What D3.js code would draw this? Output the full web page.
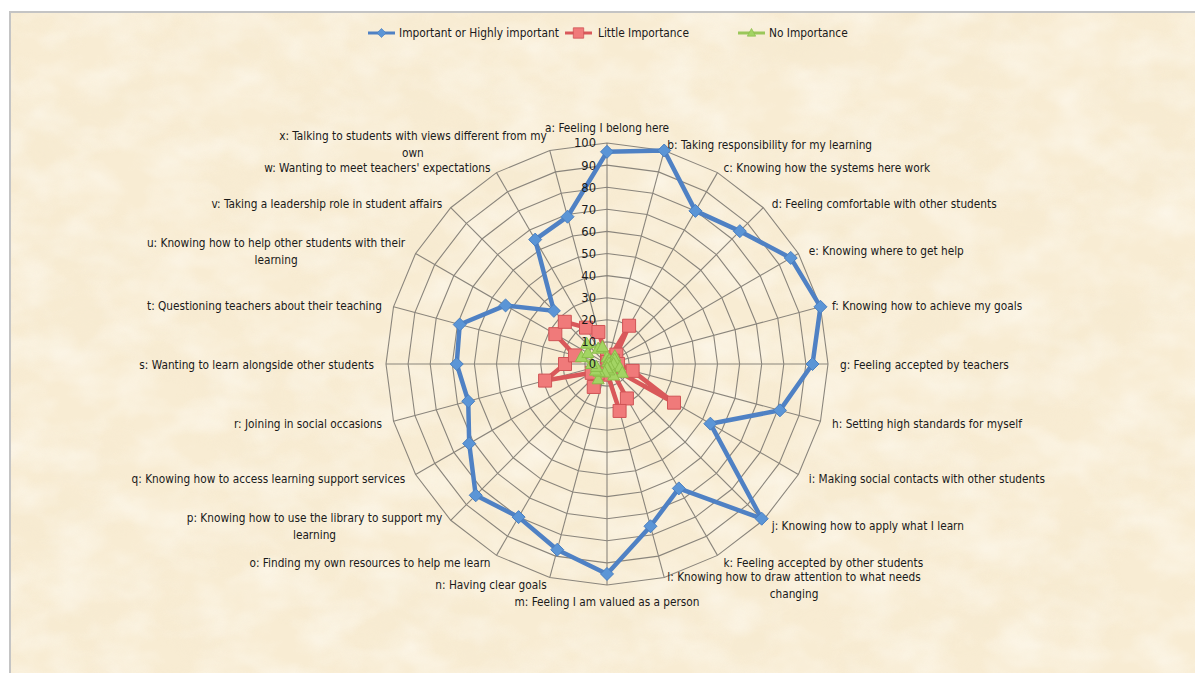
<!DOCTYPE html>
<html><head><meta charset="utf-8">
<script src="https://cdn.jsdelivr.net/npm/d3@7/dist/d3.min.js"></script>
<style>
body{margin:0;background:#fff;}
svg{display:block}
</style>
</head><body>
<svg id="chart" width="1195" height="673"></svg>
<script>
// ---------------- DATA ----------------
const categories = [
  "a: Feeling I belong here",
  "b: Taking responsibility for my learning",
  "c: Knowing how the systems here work",
  "d: Feeling comfortable with other students",
  "e: Knowing where to get help",
  "f: Knowing how to achieve my goals",
  "g: Feeling accepted by teachers",
  "h: Setting high standards for myself",
  "i: Making social contacts with other students",
  "j: Knowing how to apply what I learn",
  "k: Feeling accepted by other students",
  "l: Knowing how to draw attention to what needs\nchanging",
  "m: Feeling I am valued as a person",
  "n: Having clear goals",
  "o: Finding my own resources to help me learn",
  "p: Knowing how to use the library to support my\nlearning",
  "q: Knowing how to access learning support services",
  "r: Joining in social occasions",
  "s: Wanting to learn alongside other students",
  "t: Questioning teachers about their teaching",
  "u: Knowing how to help other students with their\nlearning",
  "v: Taking a leadership role in student affairs",
  "w: Wanting to meet teachers' expectations",
  "x: Talking to students with views different from my\nown"
];
const seriesNames = ["Important or Highly important", "Little Importance", "No Importance"];
const important = [96, 100, 80, 85, 96, 100, 93, 81, 54, 99, 65, 76, 95, 87, 80, 84, 72, 65, 68, 69, 53, 34, 65, 69];
const little    = [3, 1, 20, 6, 3, 2, 5, 12, 35, 2, 18, 22, 4, 5, 12, 6, 8, 29, 19, 15, 27, 27, 19, 15];
const noImp     = [3, 1, 2, 5, 4, 1, 3, 6, 8, 2, 6, 3, 2, 4, 8, 5, 6, 5, 7, 12, 10, 13, 8, 8];
const tickValues = [0, 10, 20, 30, 40, 50, 60, 70, 80, 90, 100];

// ---------------- LAYOUT ----------------
const W = 1195, H = 673;
const cx = 607, cy = 364, R = 221;
const svg = d3.select("#chart");
const FONT = "'Liberation Sans Narrow','DejaVu Sans Condensed','Liberation Sans',sans-serif";

// background parchment
const defs = svg.append("defs");
const f = defs.append("filter").attr("id", "paper").attr("x", 0).attr("y", 0).attr("width", "100%").attr("height", "100%");
f.append("feTurbulence").attr("type", "fractalNoise").attr("baseFrequency", "0.009 0.014").attr("numOctaves", 4).attr("seed", 7).attr("result", "n");
f.append("feColorMatrix").attr("in", "n").attr("type", "matrix")
  .attr("values", "0 0 0 0 0.88  0 0 0 0 0.78  0 0 0 0 0.58  1.2 0 0 0 -0.5");
const f2 = defs.append("filter").attr("id", "paper2").attr("x", 0).attr("y", 0).attr("width", "100%").attr("height", "100%");
f2.append("feTurbulence").attr("type", "fractalNoise").attr("baseFrequency", "0.02 0.03").attr("numOctaves", 3).attr("seed", 21).attr("result", "n");
f2.append("feColorMatrix").attr("in", "n").attr("type", "matrix")
  .attr("values", "0 0 0 0 1  0 0 0 0 0.99  0 0 0 0 0.95  0 1.4 0 0 -0.5");

svg.append("rect").attr("x", 10).attr("y", 12).attr("width", W).attr("height", H).attr("fill", "#f8ecd3");
svg.append("rect").attr("x", 10).attr("y", 12).attr("width", W).attr("height", H).attr("filter", "url(#paper)").attr("opacity", 0.4);
svg.append("rect").attr("x", 10).attr("y", 12).attr("width", W).attr("height", H).attr("filter", "url(#paper2)").attr("opacity", 0.65);
svg.append("path").attr("d", `M10,${H} L10,12 L${W},12`).attr("fill", "none").attr("stroke", "#c4c4c4").attr("stroke-width", 2);

// scales
const rScale = d3.scaleLinear().domain([0, 100]).range([0, R]);
const aScale = d3.scaleLinear().domain([0, categories.length]).range([0, 2 * Math.PI]);
const pt = (i, v) => [cx + rScale(v) * Math.sin(aScale(i)), cy - rScale(v) * Math.cos(aScale(i))];

const g = svg.append("g");

// grid rings (polygons)
tickValues.filter(t => t > 0).forEach(t => {
  g.append("path")
    .attr("d", d3.line()(categories.map((c, i) => pt(i, t))) + "Z")
    .attr("fill", "none").attr("stroke", "#8a857c").attr("stroke-width", 1.1);
});
// spokes
categories.forEach((c, i) => {
  const [x, y] = pt(i, 100);
  g.append("line").attr("x1", cx).attr("y1", cy).attr("x2", x).attr("y2", y)
    .attr("stroke", "#8a857c").attr("stroke-width", 1.1);
});

// font-size calibration (target widths measured in the reference)
function fitSize(text, target, base) {
  const t = svg.append("text").attr("font-family", FONT).attr("font-size", base).text(text);
  const w = t.node().getComputedTextLength();
  t.remove();
  return base * target / w;
}
const labelSize = fitSize("b: Taking responsibility for my learning", 205, 12);
const legendSize = fitSize("Important or Highly important", 160, 12);
const tickSize = fitSize("100", 22, 12);

// category labels
const padX = 12, padY = 228, lh = 17;
categories.forEach((c, i) => {
  const a = aScale(i);
  const s = Math.sin(a), co = Math.cos(a);
  const ax = cx + (R + padX) * s;
  let ay = cy - padY * co + 1;
  if (co > 0.99) ay -= 9;
  if (co < -0.99) ay += 9;
  const lines = c.split("\n");
  const t = g.append("text").attr("font-family", FONT).attr("font-size", labelSize).attr("fill", "#1a1a1a");
  const tspans = lines.map((ln, k) => t.append("tspan").text(ln)
    .attr("y", ay + (k - (lines.length - 1) / 2) * lh).attr("dy", "0.35em"));
  const widths = tspans.map(ts => ts.node().getComputedTextLength());
  const bw = d3.max(widths);
  let mid;
  if (Math.abs(s) < 0.01) mid = ax;
  else if (s > 0) mid = ax + bw / 2;
  else mid = ax - bw / 2;
  t.attr("text-anchor", "middle");
  tspans.forEach(ts => ts.attr("x", mid));
});

// series
const series = [
  {name: seriesNames[0], values: important, line: "#4f81c4", width: 4.5, fill: "#5b95d6", stroke: "#4a7fc0", shape: "diamond"},
  {name: seriesNames[1], values: little,    line: "#d9585a", width: 4.5, fill: "#f07a7a", stroke: "#d05456", shape: "square"},
  {name: seriesNames[2], values: noImp,     line: "#9bc75a", width: 3,   fill: "#a3d464", stroke: "#8bbd4a", shape: "triangle"}
];
function markerPath(shape) {
  if (shape === "diamond") return "M0,-6.5L6.5,0L0,6.5L-6.5,0Z";
  if (shape === "square") return "M-6.5,-6.5H6.5V6.5H-6.5Z";
  return "M0,-6.5L6,4.5H-6Z";
}
series.forEach(sr => {
  const pts = sr.values.map((v, i) => pt(i, v));
  g.append("path").attr("d", d3.line()(pts) + "Z")
    .attr("fill", "none").attr("stroke", sr.line).attr("stroke-width", sr.width).attr("stroke-linejoin", "round");
  g.selectAll(null).data(pts).enter().append("path")
    .attr("transform", d => `translate(${d[0]},${d[1]})`)
    .attr("d", markerPath(sr.shape))
    .attr("fill", sr.fill).attr("stroke", sr.stroke).attr("stroke-width", 1);
});

// tick labels
tickValues.forEach(t => {
  g.append("text").attr("x", cx - 11).attr("y", cy - rScale(t)).attr("dy", "0.35em")
    .attr("text-anchor", "end").attr("font-family", FONT).attr("font-size", tickSize)
    .attr("fill", "#1a1a1a").text(t);
});

// legend
const legendX = [368, 565, 738];
const ly = 33;
series.forEach((sr, k) => {
  const x0 = legendX[k];
  const lg = svg.append("g");
  lg.append("line").attr("x1", x0).attr("x2", x0 + 27).attr("y1", ly).attr("y2", ly)
    .attr("stroke", sr.line).attr("stroke-width", 3);
  lg.append("path").attr("transform", `translate(${x0 + 13.5},${ly}) scale(${k === 1 ? 0.8 : 0.7})`)
    .attr("d", markerPath(sr.shape)).attr("fill", sr.fill).attr("stroke", sr.stroke).attr("stroke-width", 1);
  lg.append("text").attr("x", x0 + 31 + (k === 1 ? 2 : 0)).attr("y", ly).attr("dy", "0.35em")
    .attr("font-family", FONT).attr("font-size", legendSize).attr("fill", "#1a1a1a").text(sr.name);
});
</script>
</body></html>
